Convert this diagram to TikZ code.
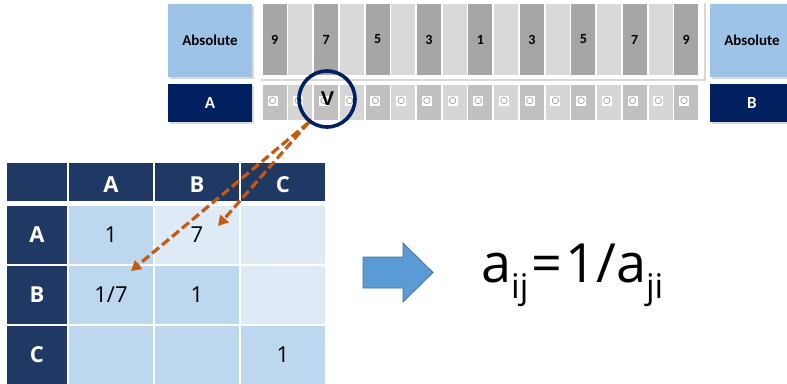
\documentclass[tikz,border=0pt]{standalone}
\usepackage{fontspec}
\setmainfont{Open Sans}
\newfontfamily\calfont{Carlito}
\newfontfamily\arialfont{Liberation Sans}
\usepackage{xcolor}
\usetikzlibrary{arrows.meta, positioning, shadows}
\definecolor{absblue}{RGB}{157, 195, 230}
\definecolor{labelnavy}{RGB}{0, 32, 96}
\definecolor{headnavy}{RGB}{31, 56, 100}
\definecolor{celldark}{RGB}{189, 215, 238}
\definecolor{celllight}{RGB}{222, 235, 247}
\definecolor{scaledark}{RGB}{166, 166, 166}
\definecolor{scalelight}{RGB}{217, 217, 217}
\definecolor{radiodark}{RGB}{192, 192, 192}
\definecolor{radiolight}{RGB}{214, 214, 214}
\definecolor{pickorange}{RGB}{197, 90, 17}
\definecolor{bigarrow}{RGB}{91, 155, 213}
\definecolor{bigarrowline}{RGB}{65, 113, 156}
\newcommand\lowidx[1]{\raisebox{-16pt}{\fontsize{34}{36}\selectfont #1}}
\tikzset{
  softshadow/.style={drop shadow={shadow xshift=1.5pt, shadow yshift=-1.5pt, opacity=0.3}},
  absbox/.style={rectangle, fill=absblue, softshadow, inner sep=0pt, minimum width=84pt, minimum height=73pt,
    font=\calfont\bfseries\fontsize{15}{17}\selectfont},
  namebox/.style={rectangle, fill=labelnavy, text=white, softshadow, inner sep=0pt, minimum width=84pt, minimum height=38pt,
    font=\calfont\bfseries\fontsize{17}{19}\selectfont},
  scalebar/.style={rectangle, inner sep=0pt, minimum width=24pt, minimum height=71pt,
    font=\calfont\bfseries\fontsize{14}{16}\selectfont},
  radiocell/.style={rectangle, inner sep=0pt, minimum width=24pt, minimum height=35pt},
  radiobtn/.style={rectangle, fill=white, inner sep=0pt, minimum size=10pt},
  headcell/.style={rectangle, fill=headnavy, text=white, inner sep=0pt, minimum height=38pt,
    font=\bfseries\fontsize{22}{24}\selectfont},
  valcell/.style={rectangle, inner sep=0pt, minimum width=84pt, minimum height=58pt,
    font=\fontsize{22}{24}\selectfont},
  pickarrow/.style={-{Triangle[length=10pt, width=11pt]}, pickorange, line width=3.2pt, dash pattern=on 9pt off 4pt},
}

\begin{document}
\begin{tikzpicture}[x=1pt, y=-1pt]
\useasboundingbox (0,0) rectangle (787,383);

% Scale frame
\fill[white, softshadow] (259,1) rectangle (704,79);

% Absolute ends
\node[absbox] (absL) at (210,40.5) {Absolute};
\node[absbox] (absR) at (752,40.5) {Absolute};
\node[namebox] (nameA) at (210,103) {A};
\node[namebox] (nameB) at (752,103) {B};

% Scale bars
\foreach \i/\val in {0/9,2/7,4/5,6/3,8/1,10/3,12/5,14/7,16/9} {
  \node[scalebar, fill=scaledark] (bar\i) at ({274.7+25.72*\i},39.5) {\val};
  \node[radiocell, fill=radiodark] (radio\i) at ({274.7+25.72*\i},102.5) {};
}
\foreach \i in {1,3,...,15} {
  \node[scalebar, fill=scalelight] (bar\i) at ({274.7+25.72*\i},39.5) {};
  \node[radiocell, fill=radiolight] (radio\i) at ({274.7+25.72*\i},102.5) {};
}

% Radio buttons
\foreach \i in {0,...,16} {
  \node[radiobtn] (btn\i) at ({272.5+25.72*\i},100.5) {};
  \draw[gray!70, line width=0.8pt] (btn\i.center) circle[radius=3.2pt];
}

% Chosen value
\node[font=\arialfont\bfseries\fontsize{20}{22}\selectfont] (vmark) at (327.5,99) {V};
\node[circle, draw=labelnavy, line width=3.6pt, minimum size=56pt, inner sep=0pt] (pick) at (327,99) {};

% Table header
\node[headcell, minimum width=60pt, text height=21pt] (hd0) at (37,182) {};
\node[headcell, minimum width=84pt, text height=21pt] (hdA) at (111,182) {A};
\node[headcell, minimum width=84pt, text height=21pt] (hdB) at (197,182) {B};
\node[headcell, minimum width=84pt, text height=21pt] (hdC) at (283,182) {C};

% Row headers
\node[headcell, minimum width=60pt, minimum height=58pt] (rowA) at (37,234.5) {A};
\node[headcell, minimum width=60pt, minimum height=58pt] (rowB) at (37,294.5) {B};
\node[headcell, minimum width=60pt, minimum height=58pt] (rowC) at (37,354.5) {C};

% Comparison values
\node[valcell, fill=celldark] (cAA) at (111,234.5) {1};
\node[valcell, fill=celllight] (cAB) at (197,234.5) {7};
\node[valcell, fill=celllight] (cAC) at (283,234.5) {};
\node[valcell, fill=celldark] (cBA) at (111,294.5) {1/7};
\node[valcell, fill=celldark] (cBB) at (197,294.5) {1};
\node[valcell, fill=celllight] (cBC) at (283,294.5) {};
\node[valcell, fill=celldark] (cCA) at (111,354.5) {};
\node[valcell, fill=celldark] (cCB) at (197,354.5) {};
\node[valcell, fill=celldark] (cCC) at (283,354.5) {1};

% Pick to table
\coordinate (tip7) at (218,226);
\coordinate (tip17) at (131,271);
\draw[pickarrow] (pick.232) -- (tip7);
\draw[pickarrow] (pick.232) -- (tip17);

% Big arrow
\filldraw[fill=bigarrow, draw=bigarrowline, line width=0.8pt]
  (363,257) -- (403,257) -- (403,243) -- (433,272.5) -- (403,302) -- (403,288) -- (363,288) -- cycle;

% Reciprocal rule
\node[anchor=base west, inner sep=0pt, font=\fontsize{54}{60}\selectfont] (rule) at (481,282)
  {a\lowidx{ij}\kern3pt=\kern3pt1/a\lowidx{ji}};

\end{tikzpicture}
\end{document}
